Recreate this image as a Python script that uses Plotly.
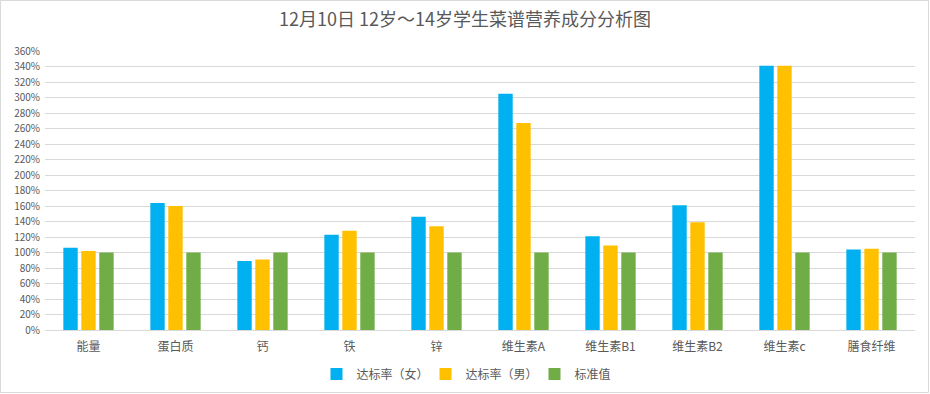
import plotly.graph_objects as go

categories = ["能量", "蛋白质", "钙", "铁", "锌", "维生素A", "维生素B1", "维生素B2", "维生素c", "膳食纤维"]
female = [1.06, 1.64, 0.89, 1.23, 1.46, 3.05, 1.21, 1.61, 3.41, 1.04]
male = [1.02, 1.60, 0.91, 1.28, 1.34, 2.67, 1.09, 1.39, 3.41, 1.05]
standard = [1.00, 1.00, 1.00, 1.00, 1.00, 1.00, 1.00, 1.00, 1.00, 1.00]
series_names = ["达标率（女）", "达标率（男）", "标准值"]
colors = ["#00B0F0", "#FFC000", "#70AD47"]
title = "12月10日 12岁～14岁学生菜谱营养成分分析图"

W, H = 930, 394
ml, mr, mt, mb = 45, 15, 51, 64
pw = W - ml - mr
ph = H - mt - mb

fig = go.Figure()
for name, vals, c in zip(series_names, [female, male, standard], colors):
    fig.add_trace(go.Bar(x=categories, y=vals, name=name, marker=dict(color=c, line=dict(width=0))))

font_family = "Noto Sans CJK SC, Microsoft YaHei, sans-serif"
fig.update_layout(
    width=W, height=H,
    margin=dict(l=ml, r=mr, t=mt, b=mb, autoexpand=False),
    paper_bgcolor="white", plot_bgcolor="white",
    barmode="group", bargap=0.38, bargroupgap=0.2,
    title=dict(text=title, x=0.5, xanchor="center", y=1 - 20 / H, yanchor="middle",
               automargin=False,
               font=dict(family=font_family, size=18, color="#595959")),
    font=dict(family=font_family, size=11, color="#595959"),
    showlegend=True,
    legend=dict(orientation="h", x=0.5, xanchor="center", y=-44 / ph, yanchor="middle",
                font=dict(size=12, color="#595959"), itemwidth=30, traceorder="normal",
                entrywidth=64, entrywidthmode="pixels"),
    xaxis=dict(showgrid=False, showline=True, linecolor="#D9D9D9", linewidth=1,
               automargin=False, ticklabelstandoff=6,
               ticks="", tickfont=dict(size=12, color="#595959")),
    yaxis=dict(range=[0, 3.6], dtick=0.2, tickformat=".0%", showgrid=True,
               automargin=False,
               gridcolor="#D9D9D9", gridwidth=1, zeroline=False, showline=False,
               ticks="", tickfont=dict(size=10, color="#595959"), ticklabelstandoff=4),
    shapes=[dict(type="rect", xref="paper", yref="paper",
                 x0=-(ml - 0.5) / pw, x1=1 + (mr - 1.5) / pw,
                 y0=-(mb - 1.5) / ph, y1=1 + (mt - 0.5) / ph,
                 line=dict(color="#D9D9D9", width=1), layer="below")],
)

fig.write_html("out.html", config={"displayModeBar": False},
               post_script="document.body.style.margin='0';")
